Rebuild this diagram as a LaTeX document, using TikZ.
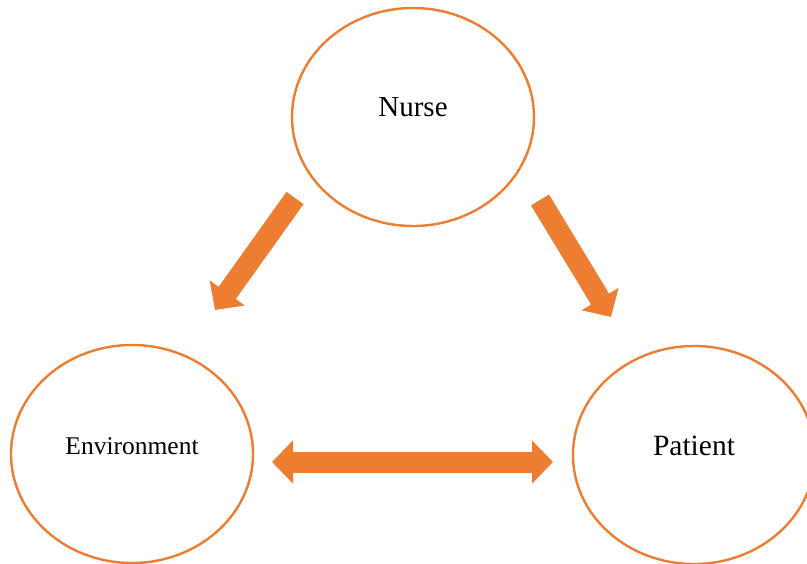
\documentclass[tikz,border=0pt]{standalone}
\usepackage{fontspec}
\setmainfont{Liberation Serif}
\usetikzlibrary{shapes.geometric,arrows.meta}
\definecolor{orng}{HTML}{ED7D31}

\begin{document}
\begin{tikzpicture}[x=1pt,y=-1pt,
  circ/.style={draw=orng, line width=2.4pt, ellipse, inner sep=0pt,
    minimum width=242pt, minimum height=218pt,
    text height=20pt, text depth=20pt},
  bigarrow/.style={orng, line width=21pt,
    -{Triangle[width=42pt,length=21pt]}}]

\useasboundingbox (0,0) rectangle (807,564);

\node[circ, font=\fontsize{29}{30}\selectfont] (nurse) at (413,117) {Nurse};
\node[circ, font=\fontsize{25.5}{30}\selectfont] (env) at (132,454) {Environment};
\node[circ, font=\fontsize{29.5}{30}\selectfont] (patient) at (694,455) {Patient};

\coordinate (nl) at (295,198);
\coordinate (el) at (215,310);
\coordinate (nr) at (540,200);
\coordinate (pr) at (611,317);
\coordinate (eb) at (272,462);
\coordinate (pb) at (553,462);

\draw[bigarrow] (nl) -- (el);
\draw[bigarrow] (nr) -- (pr);
\draw[bigarrow, {Triangle[width=42pt,length=21pt]}-{Triangle[width=42pt,length=21pt]}] (eb) -- (pb);

\end{tikzpicture}
\end{document}
